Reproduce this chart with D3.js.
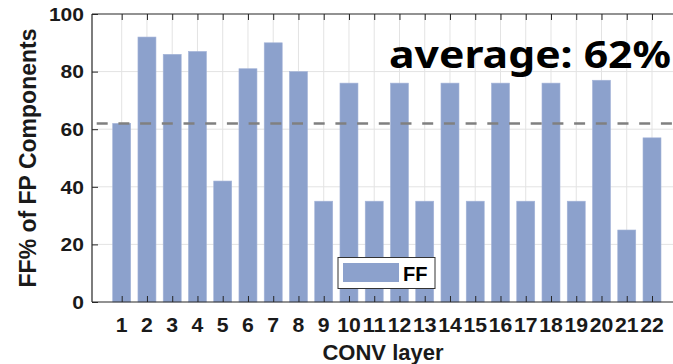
<!DOCTYPE html>
<html>
<head>
<meta charset="utf-8">
<script src="https://cdn.jsdelivr.net/npm/d3@7"></script>
<style>
  html, body { margin: 0; padding: 0; background: #fff; }
  svg { display: block; }
  text { font-weight: bold; fill: #1a1a1a; }
</style>
</head>
<body>
<svg id="chart" width="673" height="364"></svg>
<script>
const layers = [1,2,3,4,5,6,7,8,9,10,11,12,13,14,15,16,17,18,19,20,21,22];
const ffValues = [62,92,86,87,42,81,90,80,35,76,35,76,35,76,35,76,35,76,35,77,25,57];
const yTicks = [0,20,40,60,80,100];
const averageValue = 62;
const seriesName = "FF";
const annotation = "average: 62%";

const W = 673, H = 364;
const plotLeft = 92, plotTop = 14, plotBottom = 302, plotRight = 682;
const sansBold = "'Liberation Sans', Arial, sans-serif";

const svg = d3.select("#chart");

const x = d3.scaleLinear().domain([1, 22]).range([121.7, 652]);
const xMinDom = x.invert(plotLeft), xMaxDom = x.invert(plotRight);
const y = d3.scaleLinear().domain([0, 100]).range([plotBottom, plotTop]);
const barW = 18;

// grid
const grid = svg.append("g");
grid.selectAll("line.vg").data(layers).join("line")
  .attr("x1", d => x(d)).attr("x2", d => x(d))
  .attr("y1", plotTop).attr("y2", plotBottom)
  .attr("stroke", "#e3e3e3").attr("stroke-width", 1);
grid.selectAll("line.hg").data(yTicks.filter(t => t > 0 && t < 100)).join("line")
  .attr("x1", plotLeft).attr("x2", plotRight)
  .attr("y1", d => y(d)).attr("y2", d => y(d))
  .attr("stroke", "#e3e3e3").attr("stroke-width", 1);

// bars
svg.append("g").selectAll("rect").data(layers).join("rect")
  .attr("x", (d) => x(d) - barW / 2)
  .attr("y", (d, i) => y(ffValues[i]))
  .attr("width", barW)
  .attr("height", (d, i) => y(0) - y(ffValues[i]))
  .attr("fill", "#8ca1cc")
  .attr("stroke", "#a4b4d8").attr("stroke-width", 0.6);

// axes
const xAxis = d3.axisBottom(x).tickValues(layers).tickSize(-6).tickFormat("");
const gx = svg.append("g").attr("transform", `translate(0,${plotBottom})`).call(xAxis);
gx.select(".domain").remove();
gx.selectAll(".tick line").attr("stroke", "#262626");

const xTop = d3.axisTop(x).tickValues(layers).tickSize(-6).tickFormat("");
const gxt = svg.append("g").attr("transform", `translate(0,${plotTop})`).call(xTop);
gxt.select(".domain").remove();
gxt.selectAll(".tick line").attr("stroke", "#262626");

const yAxis = d3.axisLeft(y).tickValues(yTicks).tickSize(-6).tickFormat("");
const gy = svg.append("g").attr("transform", `translate(${plotLeft},0)`).call(yAxis);
gy.select(".domain").remove();
gy.selectAll(".tick line").attr("stroke", "#262626");

// frame
svg.append("line").attr("x1", plotLeft).attr("x2", plotRight).attr("y1", plotBottom).attr("y2", plotBottom)
  .attr("stroke", "#262626").attr("stroke-width", 1.2);
svg.append("line").attr("x1", plotLeft).attr("x2", plotRight).attr("y1", plotTop).attr("y2", plotTop)
  .attr("stroke", "#262626").attr("stroke-width", 1.2);
svg.append("line").attr("x1", plotLeft).attr("x2", plotLeft).attr("y1", plotTop).attr("y2", plotBottom)
  .attr("stroke", "#262626").attr("stroke-width", 1.2);

// x tick labels
svg.append("g").selectAll("text").data(layers).join("text")
  .attr("x", d => x(d)).attr("y", 332)
  .attr("text-anchor", "middle")
  .style("font-family", sansBold).style("font-size", "21px")
  .attr("textLength", d => String(d).length * 11.8)
  .attr("lengthAdjust", "spacingAndGlyphs")
  .text(d => d);

// y tick labels
svg.append("g").selectAll("text").data(yTicks).join("text")
  .attr("x", 84).attr("y", d => y(d) + 6.8)
  .attr("text-anchor", "end")
  .style("font-family", sansBold).style("font-size", "19px")
  .attr("textLength", d => String(d).length * 11.7)
  .attr("lengthAdjust", "spacingAndGlyphs")
  .text(d => d);

// average line
svg.append("line")
  .attr("x1", 96.7).attr("x2", W)
  .attr("y1", y(averageValue)).attr("y2", y(averageValue))
  .attr("stroke", "#808080").attr("stroke-width", 2.6)
  .attr("stroke-dasharray", "11,10.7");

// annotation
svg.append("text")
  .attr("x", 389).attr("y", 68)
  .style("font-family", "'Noto Sans', 'Open Sans', sans-serif")
  .style("font-size", "38px").style("fill", "#000")
  .attr("textLength", 282).attr("lengthAdjust", "spacingAndGlyphs")
  .text(annotation);

// axis titles
svg.append("text")
  .attr("x", x((xMinDom + xMaxDom) / 2) - 4).attr("y", 360)
  .attr("text-anchor", "middle")
  .style("font-family", sansBold).style("font-size", "22px")
  .text("CONV layer");
svg.append("text")
  .attr("transform", `translate(36,${(plotTop + plotBottom) / 2}) rotate(-90)`)
  .attr("text-anchor", "middle")
  .style("font-family", sansBold).style("font-size", "23px")
  .text("FF% of FP Components");

// legend
const lg = svg.append("g");
lg.append("rect").attr("x", 338).attr("y", 257.5).attr("width", 97).attr("height", 31)
  .attr("fill", "#fff").attr("stroke", "#333").attr("stroke-width", 1);
lg.append("rect").attr("x", 343).attr("y", 263).attr("width", 56).attr("height", 19)
  .attr("fill", "#8ca1cc");
lg.append("text").attr("x", 403).attr("y", 281)
  .style("font-family", sansBold).style("font-size", "20px").style("fill", "#000")
  .text(seriesName);
</script>
</body>
</html>
